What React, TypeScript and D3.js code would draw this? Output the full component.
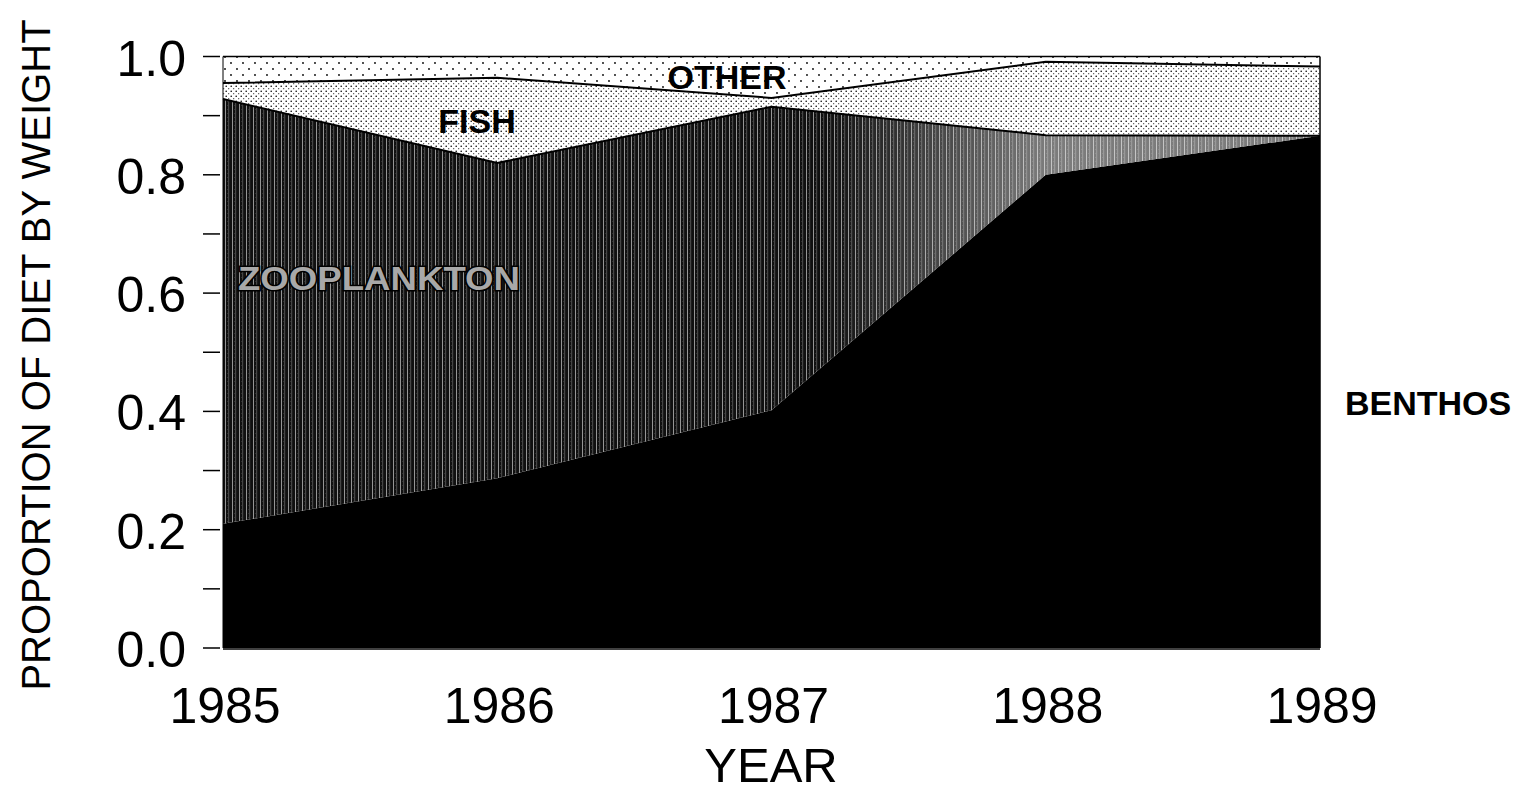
import React from 'react';
import * as d3 from 'd3';

// values (proportion of diet by weight)
const years = [1985, 1986, 1987, 1988, 1989];
const benthos = [0.21, 0.287, 0.402, 0.8, 0.866];
const zooplankton = [0.718, 0.533, 0.513, 0.067, 0.0];
const fish = [0.027, 0.144, 0.015, 0.124, 0.117];
const other = [0.045, 0.036, 0.07, 0.009, 0.017];

const yTicks = [0, 0.2, 0.4, 0.6, 0.8, 1.0];
const yMinorTicks = [0, 0.1, 0.2, 0.3, 0.4, 0.5, 0.6, 0.7, 0.8, 0.9, 1.0];
const keys = ['benthos', 'zooplankton', 'fish', 'other'];

const W = 1527;
const H = 791;

export default function App() {
  const x = d3.scaleLinear().domain([1985, 1989]).range([223, 1320]);
  const y = d3.scaleLinear().domain([0, 1]).range([648, 56.5]);

  const rows = years.map((yr, i) => ({
    year: yr,
    benthos: benthos[i],
    zooplankton: zooplankton[i],
    fish: fish[i],
    other: other[i],
  }));
  const series = d3.stack<any>().keys(keys)(rows);

  const area = d3.area<any>()
    .x((d) => x(d.data.year))
    .y0((d) => y(d[0]))
    .y1((d) => y(d[1]));
  const topLine = d3.line<any>()
    .x((d) => x(d.data.year))
    .y((d) => y(d[1]));

  const fills: Record<string, string> = {
    benthos: '#000',
    zooplankton: 'url(#zoo)',
    fish: 'url(#fishDots)',
    other: 'url(#otherDots)',
  };

  const font = 'Arial, "Liberation Sans", Helvetica, sans-serif';

  return (
    <svg width={W} height={H} style={{ position: 'absolute', left: 0, top: 0, background: '#fff' }}
      fontFamily={font}>
      <defs>
        <pattern id="otherDots" width={12} height={12} patternUnits="userSpaceOnUse">
          <rect width={12} height={12} fill="#fff" />
          <circle cx={3} cy={3} r={0.9} fill="#000" />
          <circle cx={9} cy={9} r={0.9} fill="#000" />
        </pattern>
        <pattern id="fishDots" width={5} height={5} patternUnits="userSpaceOnUse">
          <rect width={5} height={5} fill="#fff" />
          <circle cx={1.2} cy={1.2} r={0.8} fill="#000" />
          <circle cx={3.7} cy={3.7} r={0.6} fill="#333" />
        </pattern>
        <pattern id="zoo" width={7} height={4} patternUnits="userSpaceOnUse">
          <rect width={7} height={4} fill="#101010" />
          <rect x={1} width={0.8} height={4} fill="#b8b8b8" />
          <rect x={4.5} width={0.6} height={4} fill="#7a7a7a" />
          <rect x={3} y={1} width={0.6} height={0.6} fill="#666" />
        </pattern>
        <linearGradient id="zooLight" gradientUnits="userSpaceOnUse" x1={x(1987.2)} x2={x(1988)} y1={0} y2={0}>
          <stop offset="0" stopColor="#fff" stopOpacity={0} />
          <stop offset="1" stopColor="#fff" stopOpacity={0.45} />
        </linearGradient>
      </defs>

      {/* stacked layers */}
      {series.map((s) => (
        <path key={s.key} d={area(s) || ''} fill={fills[s.key]} />
      ))}
      {series.filter((s) => s.key === 'zooplankton').map((s) => (
        <path key="zl" d={area(s) || ''} fill="url(#zooLight)" />
      ))}

      {/* boundary lines */}
      {series.filter((s) => s.key === 'zooplankton' || s.key === 'fish').map((s) => (
        <path key={'l' + s.key} d={topLine(s) || ''} fill="none" stroke="#000" strokeWidth={2} />
      ))}

      {/* frame */}
      <line x1={x(1985)} x2={x(1989)} y1={y(1)} y2={y(1)} stroke="#000" strokeWidth={1.5} />
      <line x1={x(1989)} x2={x(1989)} y1={y(1)} y2={y(0)} stroke="#000" strokeWidth={1.5} />
      <line x1={x(1985)} x2={x(1985)} y1={y(1)} y2={y(0)} stroke="#000" strokeWidth={1} />
      <line x1={x(1985)} x2={x(1989)} y1={y(0) + 1} y2={y(0) + 1} stroke="#000" strokeWidth={1.5} />

      {/* y ticks */}
      {yMinorTicks.map((t) => (
        <line key={'t' + t} x1={203} x2={220} y1={y(t)} y2={y(t)} stroke="#000" strokeWidth={1.5} />
      ))}
      {yTicks.map((t) => (
        <text key={'yl' + t} x={186} y={y(t) + 19} textAnchor="end" fontSize={50}>
          {t.toFixed(1)}
        </text>
      ))}

      {/* x tick labels */}
      {years.map((yr) => (
        <text key={'x' + yr} x={x(yr) + 2} y={723} textAnchor="middle" fontSize={50}>
          {yr}
        </text>
      ))}

      {/* axis titles */}
      <text x={771} y={782} textAnchor="middle" fontSize={49}>YEAR</text>
      <g transform="translate(50,355)">
        <text transform="rotate(-90)" textAnchor="middle" fontSize={40}>
          PROPORTION OF DIET BY WEIGHT
        </text>
      </g>

      {/* series labels */}
      <text x={727} y={89} textAnchor="middle" fontSize={34} fontWeight="bold">OTHER</text>
      <text x={477} y={133} textAnchor="middle" fontSize={34} fontWeight="bold">FISH</text>
      <text x={379} y={290} textAnchor="middle" fontSize={34} fontWeight="bold"
        fill="#a8a8a8" stroke="#000" strokeWidth={3} paintOrder="stroke" textLength={282}
        lengthAdjust="spacingAndGlyphs">
        ZOOPLANKTON
      </text>
      <text x={1345} y={415} fontSize={34} fontWeight="bold">BENTHOS</text>
    </svg>
  );
}
